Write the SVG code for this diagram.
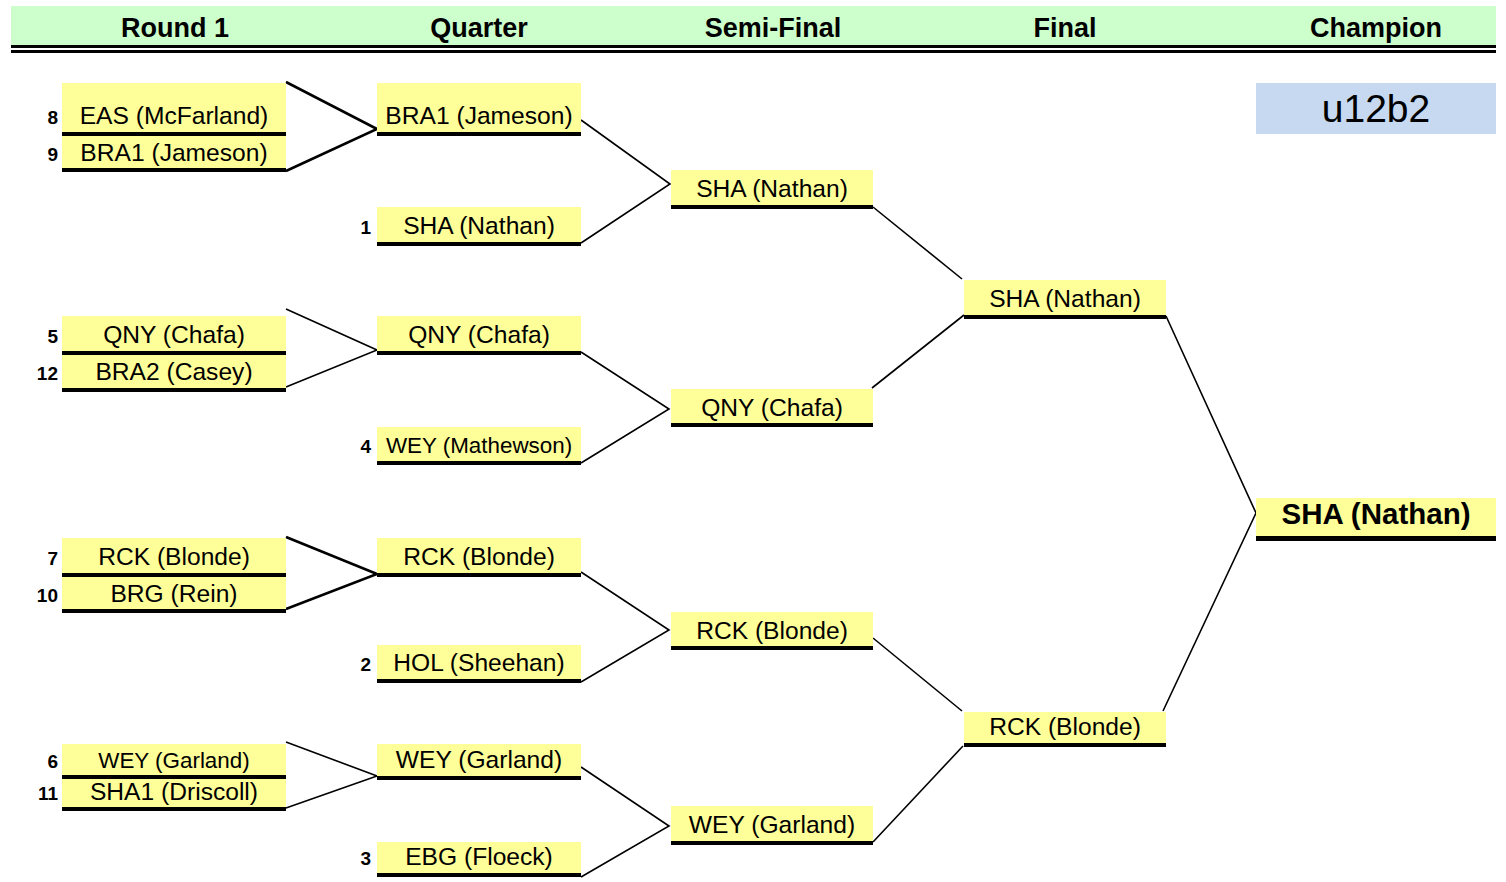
<svg xmlns="http://www.w3.org/2000/svg" width="1506" height="882" viewBox="0 0 1506 882">
<style>
.bg{fill:#FFFFFF}
.hdr{fill:#CCFFCC}
.hl{fill:#000000}
.ht{font-family:"Liberation Sans",Arial,sans-serif;font-weight:bold;font-size:27px;fill:#000;text-anchor:middle}
.box{fill:#FFFF99}
.bar{fill:#000000}
.t{font-family:"Liberation Sans",Arial,sans-serif;font-size:24.6px;fill:#000;text-anchor:middle}
.ts{font-size:22.4px}
.tc{font-weight:bold;font-size:29.5px}
.seed{font-family:"Liberation Sans",Arial,sans-serif;font-weight:bold;font-size:19px;fill:#000;text-anchor:end}
.lbl{fill:#C6D9F0}
.lt{font-family:"Liberation Sans",Arial,sans-serif;font-size:39px;fill:#000;text-anchor:middle}
.c{stroke:#000;fill:none;stroke-width:1.6}
.ck{stroke:#000;fill:none;stroke-width:2.6}
</style>
<rect class="bg" x="0" y="0" width="1506" height="882"/>
<g id="header">
<rect class="hdr" x="11" y="6" width="1485" height="39"/>
<rect class="hl" x="11" y="45" width="1485" height="3"/>
<rect class="hl" x="11" y="50" width="1485" height="3"/>
<text class="ht" x="175" y="37">Round 1</text>
<text class="ht" x="479" y="37">Quarter</text>
<text class="ht" x="773" y="37">Semi-Final</text>
<text class="ht" x="1065" y="37">Final</text>
<text class="ht" x="1376" y="37">Champion</text>
</g>
<g id="label-u12b2">
<rect class="lbl" x="1256" y="83" width="240" height="51"/>
<text class="lt" x="1376" y="122">u12b2</text>
</g>
<g id="connectors">
<polyline class="ck" points="286,82 377,129 286,171"/>
<polyline class="c" points="286,309 377,350 286,387"/>
<polyline class="ck" points="286,537 377,574 286,609"/>
<polyline class="c" points="286,742 377,776 286,808"/>
<polyline class="c" points="581,120 670,184 581,243"/>
<polyline class="c" points="581,352 669,409 581,463"/>
<polyline class="c" points="581,572 669,630 581,682"/>
<polyline class="c" points="581,767 669,826 581,877"/>
<polyline class="c" points="873,207 962,279"/>
<polyline class="c" points="872,388 964,315"/>
<polyline class="c" points="873,638 962,711"/>
<polyline class="c" points="873,842 963,746"/>
<polyline class="c" points="1166,316 1256,513 1163,711"/>
</g>
<g id="r1-eas">
<rect class="box" x="62" y="83" width="224" height="49"/><rect class="bar" x="62" y="132" width="224" height="4"/>
<text class="seed" x="58" y="124">8</text><text class="t" x="174" y="124">EAS (McFarland)</text>
</g>
<g id="r1-bra1">
<rect class="box" x="62" y="136" width="224" height="32"/><rect class="bar" x="62" y="168" width="224" height="4"/>
<text class="seed" x="58" y="161">9</text><text class="t" x="174" y="161">BRA1 (Jameson)</text>
</g>
<g id="r1-qny">
<rect class="box" x="62" y="316" width="224" height="35"/><rect class="bar" x="62" y="351" width="224" height="4"/>
<text class="seed" x="58" y="343">5</text><text class="t" x="174" y="343">QNY (Chafa)</text>
</g>
<g id="r1-bra2">
<rect class="box" x="62" y="355" width="224" height="33"/><rect class="bar" x="62" y="388" width="224" height="4"/>
<text class="seed" x="58" y="380">12</text><text class="t" x="174" y="380">BRA2 (Casey)</text>
</g>
<g id="r1-rck">
<rect class="box" x="62" y="538" width="224" height="35"/><rect class="bar" x="62" y="573" width="224" height="4"/>
<text class="seed" x="58" y="565">7</text><text class="t" x="174" y="565">RCK (Blonde)</text>
</g>
<g id="r1-brg">
<rect class="box" x="62" y="577" width="224" height="32"/><rect class="bar" x="62" y="609" width="224" height="4"/>
<text class="seed" x="58" y="602">10</text><text class="t" x="174" y="602">BRG (Rein)</text>
</g>
<g id="r1-wey">
<rect class="box" x="62" y="744" width="224" height="31"/><rect class="bar" x="62" y="775" width="224" height="4"/>
<text class="seed" x="58" y="768">6</text><text class="t ts" x="174" y="768">WEY (Garland)</text>
</g>
<g id="r1-sha1">
<rect class="box" x="62" y="779" width="224" height="28"/><rect class="bar" x="62" y="807" width="224" height="4"/>
<text class="seed" x="58" y="800">11</text><text class="t" x="174" y="800">SHA1 (Driscoll)</text>
</g>
<g id="q-bra1">
<rect class="box" x="377" y="83" width="204" height="49"/><rect class="bar" x="377" y="132" width="204" height="4"/>
<text class="t" x="479" y="124">BRA1 (Jameson)</text>
</g>
<g id="q-sha">
<rect class="box" x="377" y="207" width="204" height="35"/><rect class="bar" x="377" y="242" width="204" height="4"/>
<text class="seed" x="371" y="234">1</text><text class="t" x="479" y="234">SHA (Nathan)</text>
</g>
<g id="q-qny">
<rect class="box" x="377" y="316" width="204" height="35"/><rect class="bar" x="377" y="351" width="204" height="4"/>
<text class="t" x="479" y="343">QNY (Chafa)</text>
</g>
<g id="q-wey-m">
<rect class="box" x="377" y="427" width="204" height="34"/><rect class="bar" x="377" y="461" width="204" height="4"/>
<text class="seed" x="371" y="453">4</text><text class="t ts" x="479" y="453">WEY (Mathewson)</text>
</g>
<g id="q-rck">
<rect class="box" x="377" y="538" width="204" height="35"/><rect class="bar" x="377" y="573" width="204" height="4"/>
<text class="t" x="479" y="565">RCK (Blonde)</text>
</g>
<g id="q-hol">
<rect class="box" x="377" y="645" width="204" height="34"/><rect class="bar" x="377" y="679" width="204" height="4"/>
<text class="seed" x="371" y="671">2</text><text class="t" x="479" y="671">HOL (Sheehan)</text>
</g>
<g id="q-wey-g">
<rect class="box" x="377" y="744" width="204" height="32"/><rect class="bar" x="377" y="776" width="204" height="4"/>
<text class="t" x="479" y="768">WEY (Garland)</text>
</g>
<g id="q-ebg">
<rect class="box" x="377" y="842" width="204" height="31"/><rect class="bar" x="377" y="873" width="204" height="4"/>
<text class="seed" x="371" y="865">3</text><text class="t" x="479" y="865">EBG (Floeck)</text>
</g>
<g id="s-sha">
<rect class="box" x="671" y="170" width="202" height="35"/><rect class="bar" x="671" y="205" width="202" height="4"/>
<text class="t" x="772" y="197">SHA (Nathan)</text>
</g>
<g id="s-qny">
<rect class="box" x="671" y="389" width="202" height="34"/><rect class="bar" x="671" y="423" width="202" height="4"/>
<text class="t" x="772" y="416">QNY (Chafa)</text>
</g>
<g id="s-rck">
<rect class="box" x="671" y="612" width="202" height="34"/><rect class="bar" x="671" y="646" width="202" height="4"/>
<text class="t" x="772" y="639">RCK (Blonde)</text>
</g>
<g id="s-wey">
<rect class="box" x="671" y="806" width="202" height="35"/><rect class="bar" x="671" y="841" width="202" height="4"/>
<text class="t" x="772" y="833">WEY (Garland)</text>
</g>
<g id="f-sha">
<rect class="box" x="964" y="280" width="202" height="35"/><rect class="bar" x="964" y="315" width="202" height="4"/>
<text class="t" x="1065" y="307">SHA (Nathan)</text>
</g>
<g id="f-rck">
<rect class="box" x="964" y="712" width="202" height="31"/><rect class="bar" x="964" y="743" width="202" height="4"/>
<text class="t" x="1065" y="735">RCK (Blonde)</text>
</g>
<g id="champion">
<rect class="box" x="1256" y="498" width="240" height="38"/><rect class="bar" x="1256" y="536" width="240" height="5"/>
<text class="t tc" x="1376" y="524">SHA (Nathan)</text>
</g>
</svg>
